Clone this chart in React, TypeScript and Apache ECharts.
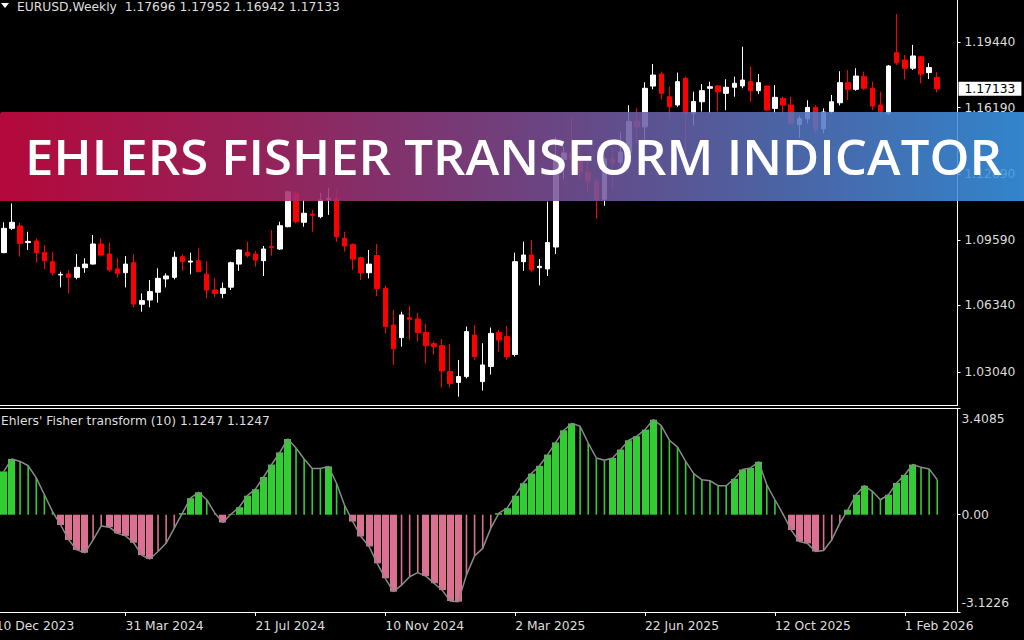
import React, { useEffect, useRef } from 'react';
import * as echarts from 'echarts';

const FONT = '"DejaVu Sans", Tahoma, sans-serif';
const FS = 12.3;
const TXT = '#dedede';

// weekly bars, k = 1 .. 116 (k = 0 is 10 Dec 2023)
const opens = [
  1.0897, 1.1018, 1.1030, 1.0947, 1.0955, 1.0897, 1.0852, 1.0786, 1.0791, 1.0774,
  1.0822, 1.0840, 1.0940, 1.0890, 1.0816, 1.0797, 1.0847, 1.0640, 1.0661, 1.0700,
  1.0766, 1.0774, 1.0877, 1.0850, 1.0857, 1.0790, 1.0711, 1.0694, 1.0725, 1.0840,
  1.0899, 1.0890, 1.0857, 1.0927, 1.0915, 1.1026, 1.1192, 1.1048, 1.1089, 1.1076,
  1.1163, 1.1164, 1.0968, 1.0938, 1.0872, 1.0797, 1.0882, 1.0719, 1.0537, 1.0474,
  1.0573, 1.0567, 1.0500, 1.0444, 1.0434, 1.0305, 1.0251, 1.0280, 1.0487, 1.0255,
  1.0330, 1.0499, 1.0479, 1.0390, 1.0852, 1.0885, 1.0822, 1.0816, 1.0925, 1.1360,
  1.1393, 1.1363, 1.1298, 1.1253, 1.1163, 1.1363, 1.1347, 1.1397, 1.1550, 1.1523,
  1.1726, 1.1786, 1.1673, 1.1632, 1.1765, 1.1591, 1.1648, 1.1715, 1.1727, 1.1690,
  1.1720, 1.1727, 1.1748, 1.1703, 1.1726, 1.1615, 1.1665, 1.1632, 1.1535, 1.1564,
  1.1620, 1.1513, 1.1599, 1.1643, 1.1743, 1.1710, 1.1773, 1.1715, 1.1632, 1.1591,
  1.1892, 1.1856, 1.1815, 1.1872, 1.1793, 1.17696,
];
const highs = [
  1.1048, 1.1142, 1.1045, 1.1001, 1.0968, 1.0935, 1.0900, 1.0802, 1.0811, 1.0890,
  1.0869, 1.0985, 1.0968, 1.0947, 1.0869, 1.0880, 1.0889, 1.0694, 1.0761, 1.0819,
  1.0794, 1.0902, 1.0889, 1.0897, 1.0918, 1.0855, 1.0769, 1.0748, 1.0852, 1.0913,
  1.0952, 1.0905, 1.0930, 1.1010, 1.1051, 1.1205, 1.1202, 1.1159, 1.1109, 1.1194,
  1.1219, 1.1210, 1.1001, 1.0943, 1.0877, 1.0910, 1.0940, 1.0733, 1.0612, 1.0603,
  1.0633, 1.0598, 1.0542, 1.0454, 1.0467, 1.0442, 1.0363, 1.0529, 1.0537, 1.0446,
  1.0524, 1.0512, 1.0532, 1.0897, 1.0952, 1.0960, 1.0865, 1.1151, 1.1474, 1.1425,
  1.1573, 1.1425, 1.1380, 1.1266, 1.1375, 1.1420, 1.1495, 1.1631, 1.1615, 1.1745,
  1.1836, 1.1798, 1.1723, 1.1793, 1.1773, 1.1698, 1.1736, 1.1748, 1.1730, 1.1760,
  1.1773, 1.1922, 1.1823, 1.1786, 1.1729, 1.1731, 1.1673, 1.1673, 1.1580, 1.1655,
  1.1630, 1.1615, 1.1682, 1.1800, 1.1806, 1.1815, 1.1798, 1.1748, 1.1698, 1.1831,
  1.2085, 1.1881, 1.1931, 1.1876, 1.1840, 1.17952,
];
const lows = [
  1.0894, 1.1010, 1.0877, 1.0910, 1.0847, 1.0816, 1.0783, 1.0724, 1.0694, 1.0764,
  1.0797, 1.0838, 1.0877, 1.0802, 1.0773, 1.0724, 1.0625, 1.0603, 1.0625, 1.0648,
  1.0724, 1.0764, 1.0806, 1.0789, 1.0801, 1.0670, 1.0675, 1.0670, 1.0711, 1.0806,
  1.0872, 1.0827, 1.0781, 1.0882, 1.0910, 1.1023, 1.1043, 1.1026, 1.1001, 1.1068,
  1.1085, 1.0951, 1.0902, 1.0811, 1.0761, 1.0769, 1.0681, 1.0495, 1.0338, 1.0429,
  1.0465, 1.0454, 1.0346, 1.0388, 1.0227, 1.0227, 1.0180, 1.0271, 1.0363, 1.0210,
  1.0290, 1.0404, 1.0363, 1.0380, 1.0806, 1.0802, 1.0734, 1.0781, 1.0890, 1.1265,
  1.1310, 1.1265, 1.1200, 1.1065, 1.1130, 1.1210, 1.1330, 1.1370, 1.1445, 1.1450,
  1.1710, 1.1660, 1.1567, 1.1623, 1.1392, 1.1530, 1.1599, 1.1591, 1.1600, 1.1606,
  1.1673, 1.1715, 1.1648, 1.1687, 1.1602, 1.1591, 1.1582, 1.1530, 1.1468, 1.1540,
  1.1490, 1.1490, 1.1590, 1.1630, 1.1657, 1.1703, 1.1707, 1.1607, 1.1582, 1.1582,
  1.1831, 1.1760, 1.1806, 1.1740, 1.1761, 1.16942,
];
const closes = [
  1.1018, 1.1048, 1.0943, 1.0953, 1.0897, 1.0857, 1.0797, 1.0789, 1.0774, 1.0824,
  1.0840, 1.0940, 1.0885, 1.0811, 1.0794, 1.0840, 1.0641, 1.0658, 1.0703, 1.0769,
  1.0781, 1.0874, 1.0852, 1.0855, 1.0802, 1.0711, 1.0694, 1.0719, 1.0847, 1.0910,
  1.0882, 1.0860, 1.0915, 1.0923, 1.1031, 1.1200, 1.1051, 1.1093, 1.1083, 1.1159,
  1.1167, 1.0976, 1.0930, 1.0865, 1.0797, 1.0840, 1.0719, 1.0529, 1.0418, 1.0587,
  1.0565, 1.0499, 1.0434, 1.0429, 1.0308, 1.0246, 1.0280, 1.0504, 1.0379, 1.0338,
  1.0495, 1.0462, 1.0379, 1.0852, 1.0885, 1.0811, 1.0829, 1.0947, 1.1360, 1.1393,
  1.1363, 1.1298, 1.1253, 1.1163, 1.1363, 1.1347, 1.1397, 1.1550, 1.1523, 1.1715,
  1.1781, 1.1690, 1.1623, 1.1748, 1.1591, 1.1649, 1.1703, 1.1723, 1.1698, 1.1720,
  1.1740, 1.1756, 1.1703, 1.1743, 1.1607, 1.1670, 1.1632, 1.1540, 1.1564, 1.1620,
  1.1513, 1.1597, 1.1648, 1.1743, 1.1710, 1.1776, 1.1715, 1.1627, 1.1599, 1.1826,
  1.1842, 1.1815, 1.1876, 1.1786, 1.1818, 1.17133,
];
// Ehlers' Fisher transform (10), k = 1 .. 116
const fisher = [
  1.39, 1.79, 1.71, 1.57, 1.18, 0.64, 0.10, -0.33, -0.81, -1.13,
  -1.22, -0.81, -0.36, -0.40, -0.60, -0.68, -0.90, -1.30, -1.42, -1.18,
  -0.91, -0.43, 0.05, 0.53, 0.72, 0.48, 0.05, -0.25, 0.02, 0.24,
  0.61, 0.82, 1.21, 1.61, 2.00, 2.43, 2.14, 1.79, 1.48, 1.48,
  1.55, 1.00, 0.29, -0.22, -0.70, -1.02, -1.56, -2.04, -2.47, -2.26,
  -1.99, -1.86, -1.97, -2.20, -2.42, -2.77, -2.79, -1.93, -1.32, -1.08,
  -0.43, 0.05, 0.21, 0.61, 1.01, 1.32, 1.57, 1.93, 2.32, 2.71,
  2.93, 2.84, 2.30, 1.82, 1.75, 1.82, 2.09, 2.39, 2.52, 2.73,
  3.05, 2.86, 2.39, 2.17, 1.71, 1.32, 1.12, 1.09, 0.93, 0.93,
  1.15, 1.45, 1.50, 1.70, 0.96, 0.48, 0.02, -0.49, -0.86, -0.92,
  -1.18, -1.15, -0.81, -0.27, 0.16, 0.64, 0.93, 0.75, 0.48, 0.64,
  1.02, 1.28, 1.61, 1.52, 1.47, 1.12,
];

const tickLabels = ['10 Dec 2023', '31 Mar 2024', '21 Jul 2024', '10 Nov 2024', '2 Mar 2025', '22 Jun 2025', '12 Oct 2025', '1 Feb 2026'];
const priceAxisValues = [1.1944, 1.1619, 1.1289, 1.0959, 1.0634, 1.0304];
const lastPrice = 1.17133;
const fisherAxisValues = [3.4085, 0, -3.1226];
const fisherAxisLabels = ['3.4085', '0.00', '-3.1226'];
const headerText = 'EURUSD,Weekly  1.17696 1.17952 1.16942 1.17133';
const indicatorTitle = "Ehlers' Fisher transform (10) 1.1247 1.1247";
const bannerTitle = 'EHLERS FISHER TRANSFORM INDICATOR';

const CAT_COUNT = 119;
const TICK_STEP = 16;
const GREEN = '#32cd32';
const PINK = '#db7093';

function buildOption() {
  const cats = Array.from({ length: CAT_COUNT }, (_, i) => String(i));
  const candleData = opens.map((o, i) => [i + 1, o, closes[i], lows[i], highs[i]]);
  const histData = fisher.map((v, i) => {
    const prev = i > 0 ? fisher[i - 1] : null;
    let thick = 1;
    if (prev !== null) thick = v >= 0 ? (v > prev ? 1 : 0) : (v < prev ? 1 : 0);
    return [i + 1, v, thick];
  });
  const lineData = fisher.map((v, i) => [i + 1, v]);

  const gridLeft = -8.36;
  const gridWidth = 965.9;

  return {
    animation: false,
    backgroundColor: '#000000',
    grid: [
      { left: gridLeft, top: 0, width: gridWidth, height: 405.5, containLabel: false, outerBoundsMode: 'none' },
      { left: gridLeft, top: 408.5, width: gridWidth, height: 203.5, containLabel: false, outerBoundsMode: 'none' },
    ],
    xAxis: [
      {
        type: 'category', gridIndex: 0, data: cats, boundaryGap: true,
        axisLine: { show: true, onZero: false, lineStyle: { color: '#ffffff', width: 1 } },
        axisTick: { show: false }, axisLabel: { show: false }, splitLine: { show: false },
      },
      {
        type: 'category', gridIndex: 1, data: cats, boundaryGap: true, position: 'bottom',
        axisLine: { show: true, onZero: false, lineStyle: { color: '#ffffff', width: 1 } },
        axisTick: {
          show: true, alignWithLabel: true, length: 4,
          interval: (i: number) => i % TICK_STEP === 0,
          lineStyle: { color: '#ffffff' },
        },
        axisLabel: {
          show: true,
          interval: (i: number) => i % TICK_STEP === 0,
          formatter: (_v: string, idx: number) => tickLabels[idx / TICK_STEP] ?? '',
          align: 'left', color: TXT, fontFamily: FONT, fontSize: FS, margin: 8,
        },
        splitLine: { show: false },
      },
      {
        type: 'category', gridIndex: 1, data: cats, position: 'top', boundaryGap: true,
        axisLine: { show: true, onZero: false, lineStyle: { color: '#ffffff', width: 1 } },
        axisTick: { show: false }, axisLabel: { show: false }, splitLine: { show: false },
      },
    ],
    yAxis: [
      {
        type: 'value', gridIndex: 0, position: 'right', min: 1.01361, max: 1.21545,
        splitLine: { show: false },
        axisLine: { show: true, onZero: false, lineStyle: { color: '#ffffff', width: 1 } },
        axisTick: { show: true, length: 3, lineStyle: { color: '#ffffff' }, customValues: priceAxisValues },
        axisLabel: {
          show: true, margin: 1,
          customValues: [...priceAxisValues, lastPrice],
          formatter: (v: number) => (Math.abs(v - lastPrice) < 1e-7 ? `{cur|${v.toFixed(5)}}` : `{n|${v.toFixed(5)}}`),
          rich: {
            n: { color: TXT, fontFamily: FONT, fontSize: FS, padding: [0, 0, 0, 6] },
            cur: { color: '#000000', backgroundColor: '#ffffff', fontFamily: FONT, fontSize: FS, padding: [1, 6, 1, 6] },
          },
        },
      },
      {
        type: 'value', gridIndex: 1, position: 'right', min: -3.1226, max: 3.4085,
        splitLine: { show: false },
        axisLine: { show: true, onZero: false, lineStyle: { color: '#ffffff', width: 1 } },
        axisTick: { show: true, length: 3, lineStyle: { color: '#ffffff' }, customValues: fisherAxisValues },
        axisLabel: {
          show: true, margin: 4,
          customValues: fisherAxisValues,
          formatter: (v: number) => {
            const i = fisherAxisValues.findIndex((x) => Math.abs(x - v) < 1e-6);
            const s = fisherAxisLabels[i] ?? '';
            return i === 0 ? `{t|${s}}` : i === 2 ? `{b|${s}}` : `{m|${s}}`;
          },
          rich: {
            t: { color: TXT, fontFamily: FONT, fontSize: FS, padding: [21, 0, 0, 0] },
            m: { color: TXT, fontFamily: FONT, fontSize: FS },
            b: { color: TXT, fontFamily: FONT, fontSize: FS, padding: [0, 0, 18, 0] },
          },
        },
      },
    ],
    series: [
      {
        type: 'candlestick', xAxisIndex: 0, yAxisIndex: 0,
        dimensions: ['x', 'open', 'close', 'lowest', 'highest'],
        encode: { x: 'x', y: ['open', 'close', 'lowest', 'highest'] },
        data: candleData, barWidth: 5,
        itemStyle: {
          color: '#ffffff', color0: '#ff0000',
          borderColor: '#ffffff', borderColor0: '#ff0000', borderColorDoji: '#ffffff', borderWidth: 1,
        },
      },
      {
        type: 'custom', xAxisIndex: 1, yAxisIndex: 1,
        dimensions: ['x', 'v', 'thick'],
        encode: { x: 0, y: 1 },
        data: histData,
        renderItem: (_p: any, api: any) => {
          const idx = api.value(0);
          const v = api.value(1);
          const thick = api.value(2);
          const base = api.coord([idx, 0]);
          const top = api.coord([idx, v]);
          const w = thick ? 7 : 1.6;
          const x = thick ? Math.round(base[0] - 3.5) : base[0] - 0.8;
          return {
            type: 'rect',
            shape: { x, y: Math.min(base[1], top[1]), width: w, height: Math.abs(top[1] - base[1]) },
            style: { fill: v >= 0 ? GREEN : PINK, stroke: 'none', lineWidth: 0, opacity: 1 },
          };
        },
        z: 2,
      },
      {
        type: 'line', xAxisIndex: 1, yAxisIndex: 1, data: lineData,
        symbol: 'none', lineStyle: { color: '#8a8a8a', width: 1.5 }, z: 3,
      },
    ],
    graphic: [
      { type: 'polygon', shape: { points: [[1, 3], [9, 3], [5, 8]] }, style: { fill: '#ffffff' }, z: 50 },
      { type: 'text', x: 17, y: 7, style: { text: headerText, fill: TXT, fontFamily: FONT, fontSize: FS, verticalAlign: 'middle' }, z: 50 },
      { type: 'text', x: 1, y: 421, style: { text: indicatorTitle, fill: TXT, fontFamily: FONT, fontSize: FS, verticalAlign: 'middle' }, z: 50 },
      {
        type: 'rect', shape: { x: 0, y: 112, width: 1024, height: 89, r: [3, 0, 0, 0] }, z: 100,
        style: {
          opacity: 0.87,
          fill: new echarts.graphic.LinearGradient(0, 0, 1, 0, [
            { offset: 0, color: 'rgb(207,10,68)' },
            { offset: 0.25, color: 'rgb(172,38,102)' },
            { offset: 0.5, color: 'rgb(128,74,144)' },
            { offset: 0.75, color: 'rgb(88,112,186)' },
            { offset: 1, color: 'rgb(58,152,234)' },
          ]),
        },
      },
      {
        type: 'text', x: 513.5, y: 156, z: 101, scaleX: 1.06,
        style: {
          text: bannerTitle, fill: '#ffffff', fontFamily: '"Open Sans", "Noto Sans", sans-serif',
          fontWeight: 600, fontSize: 48, align: 'center', verticalAlign: 'middle',
        },
      },
    ],
  };
}

export default function App() {
  const ref = useRef<HTMLDivElement>(null);
  useEffect(() => {
    if (!ref.current) return;
    const chart = echarts.init(ref.current, undefined, { renderer: 'svg' });
    chart.setOption(buildOption() as any);
    return () => chart.dispose();
  }, []);
  return <div ref={ref} style={{ position: 'fixed', left: 0, top: 0, width: 1024, height: 640, background: '#000' }} />;
}
